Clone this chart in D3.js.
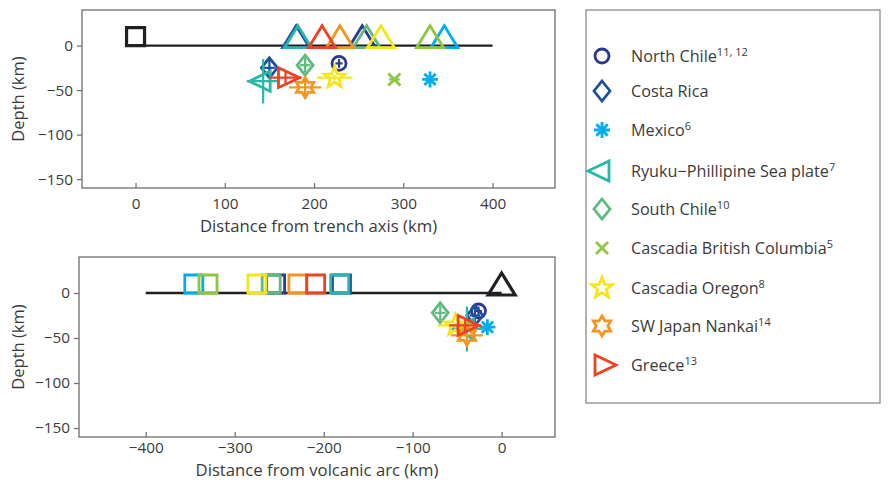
<!DOCTYPE html>
<html>
<head>
<meta charset="utf-8">
<script src="https://cdn.jsdelivr.net/npm/d3@7"></script>
<style>
  body { margin: 0; background: #fff; }
  svg { display: block; font-family: "Open Sans", "DejaVu Sans", sans-serif; }
</style>
</head>
<body>
<svg id="chart" width="892" height="481"></svg>
<script>
// ---------------- data ----------------
const regions = ["North Chile", "Costa Rica", "Mexico", "Ryuku\u2212Phillipine Sea plate", "South Chile",
                 "Cascadia British Columbia", "Cascadia Oregon", "SW Japan Nankai", "Greece"];
const refs = ["11, 12", "", "6", "7", "10", "5", "8", "14", "13"];
const colors = ["#2b3990", "#1c4f9e", "#00aeef", "#2ab7a9", "#5fba7d", "#8dc63f", "#f5e51b", "#f7941d", "#ef4123"];
const symbols = ["circle", "diamond", "asterisk", "triangleLeft", "diamond", "cross", "pentagram", "hexagram", "triangleRight"];
// distance of volcanic arc from trench axis (km)
const arcDist = [254, 180, 346, 182, 259, 330, 275, 229, 209];
// seismic feature distance from trench (km) and depth (km)
const eqDist  = [228, 150, 330, 143, 190, 290, 223, 190, 168];
const eqDepth = [-20, -25, -38, -40, -22, -38, -36, -47, -36];
const distErr  = [4, 6, 6, 18, 6, 6, 20, 18, 18];
const depthErr = [5, 9, 0, 25, 8, 0, 3, 13, 8];
// reference markers (trench / arc) elevation, km
const refElev = 10;
const lineTop = [0, 400];      // trench -> 400 km
const lineBottom = [-400, 0];  // -400 km -> arc
const xTicksTop = [0, 100, 200, 300, 400];
const xTicksBottom = [-400, -300, -200, -100, 0];
const yTicks = [0, -50, -100, -150];

// ---------------- symbols ----------------
function symbolPath(type, s) {
  s = s || 1;
  const p = d3.path();
  const poly = pts => { pts.forEach((q, i) => i ? p.lineTo(q[0]*s, q[1]*s) : p.moveTo(q[0]*s, q[1]*s)); p.closePath(); };
  const star = (n, ro, ri, rot) => {
    const pts = [];
    for (let i = 0; i < 2*n; i++) {
      const r = i % 2 ? ri : ro;
      const a = rot + i * Math.PI / n;
      pts.push([r*Math.cos(a), r*Math.sin(a)]);
    }
    poly(pts);
  };
  switch (type) {
    case "circle": p.moveTo(7*s, 0); p.arc(0, 0, 7*s, 0, 2*Math.PI); break;
    case "diamond": poly([[0, -10], [8, 0], [0, 10], [-8, 0]]); break;
    case "asterisk":
      for (let k = 0; k < 4; k++) { const a = k*Math.PI/4; p.moveTo(-8*s*Math.cos(a), -8*s*Math.sin(a)); p.lineTo(8*s*Math.cos(a), 8*s*Math.sin(a)); }
      break;
    case "cross":
      p.moveTo(-6*s, -6*s); p.lineTo(6*s, 6*s); p.moveTo(-6*s, 6*s); p.lineTo(6*s, -6*s); break;
    case "triangleLeft": poly([[-14, 0], [7, -10], [7, 10]]); break;
    case "triangleRight": poly([[14, 0], [-7, -10], [-7, 10]]); break;
    case "triangleUp": poly([[0, -11], [13.5, 11], [-13.5, 11]]); break;
    case "square": poly([[-9, -9], [9, -9], [9, 9], [-9, 9]]); break;
    case "pentagram": star(5, 11, 4.6, -Math.PI/2); break;
    case "hexagram": star(6, 10, 5.8, -Math.PI/2); break;
  }
  return p.toString();
}

const svg = d3.select("#chart");
const textColor = "#3a3a3a";
const axisColor = "#6d6d6d";

function panel(cfg) {
  const x = d3.scaleLinear().domain(cfg.xDomain).range([cfg.left, cfg.right]);
  const y = d3.scaleLinear().domain([-160, 40]).range([cfg.bottom, cfg.top]);
  const g = svg.append("g");

  // frame
  g.append("rect").attr("x", cfg.left).attr("y", cfg.top)
    .attr("width", cfg.right - cfg.left).attr("height", cfg.bottom - cfg.top)
    .attr("fill", "none").attr("stroke", axisColor).attr("stroke-width", 1.3);

  const xa = g.append("g").attr("transform", `translate(0,${cfg.bottom})`)
    .call(d3.axisBottom(x).tickValues(cfg.xTicks).tickSize(-5).tickPadding(cfg.tickPad).tickFormat(d => d < 0 ? "\u2212" + Math.abs(d) : d));
  const ya = g.append("g").attr("transform", `translate(${cfg.left},0)`)
    .call(d3.axisLeft(y).tickValues(yTicks).tickSize(5).tickPadding(4).tickFormat(d => d < 0 ? "\u2212" + Math.abs(d) : d));
  [xa, ya].forEach(a => {
    a.select(".domain").remove();
    a.selectAll("line").attr("stroke", axisColor).attr("stroke-width", 1.2);
    a.selectAll("text").attr("fill", textColor).attr("font-size", 15.3).attr("font-family", "Open Sans");
  });

  g.append("text").attr("x", (cfg.left + cfg.right) / 2).attr("y", cfg.bottom + cfg.labelOffset)
    .attr("text-anchor", "middle").attr("fill", textColor).attr("font-size", 16.7).text(cfg.xLabel);
  g.append("text").attr("transform", `translate(24,${(cfg.top + cfg.bottom) / 2}) rotate(-90)`)
    .attr("text-anchor", "middle").attr("fill", textColor).attr("font-size", 16.5).text("Depth (km)");

  // base line
  g.append("line").attr("x1", x(cfg.line[0])).attr("x2", x(cfg.line[1]))
    .attr("y1", y(0)).attr("y2", y(0)).attr("stroke", "#231f20").attr("stroke-width", 2.4);

  // black reference marker
  g.append("path").attr("d", symbolPath(cfg.blackSymbol))
    .attr("transform", `translate(${x(0)},${y(refElev)})`)
    .attr("fill", "none").attr("stroke", "#231f20").attr("stroke-width", 3.2);

  // colored reference markers
  g.selectAll(".ref").data(regions.map((r, i) => i)).join("path")
    .attr("d", symbolPath(cfg.refSymbol))
    .attr("transform", i => `translate(${x(cfg.refX(i))},${y(refElev)})`)
    .attr("fill", "none").attr("stroke", i => colors[i]).attr("stroke-width", 2.8)
    .attr("stroke-linejoin", "miter");

  // seismic markers with error bars
  regions.forEach((r, i) => {
    const cx = cfg.eqX(i), cy = eqDepth[i];
    const eg = g.append("g").attr("stroke", colors[i]).attr("fill", "none");
    if (distErr[i] > 0)
      eg.append("line").attr("x1", x(cx - distErr[i])).attr("x2", x(cx + distErr[i]))
        .attr("y1", y(cy)).attr("y2", y(cy)).attr("stroke-width", 2.2);
    if (depthErr[i] > 0)
      eg.append("line").attr("x1", x(cx)).attr("x2", x(cx))
        .attr("y1", y(cy - depthErr[i])).attr("y2", y(cy + depthErr[i])).attr("stroke-width", 2.2);
    eg.append("path").attr("d", symbolPath(symbols[i]))
      .attr("transform", `translate(${x(cx)},${y(cy)})`)
      .attr("stroke-width", 2.8).attr("stroke-linejoin", "miter");
  });
}

panel({
  left: 82, right: 555, top: 10, bottom: 188, labelOffset: 44, tickPad: 10,
  xDomain: [-60, 470], xTicks: xTicksTop, line: lineTop,
  xLabel: "Distance from trench axis (km)",
  blackSymbol: "square", refSymbol: "triangleUp",
  refX: i => arcDist[i], eqX: i => eqDist[i]
});
panel({
  left: 79, right: 555, top: 257, bottom: 437, labelOffset: 39, tickPad: 5,
  xDomain: [-475, 60], xTicks: xTicksBottom, line: lineBottom,
  xLabel: "Distance from volcanic arc (km)",
  blackSymbol: "triangleUp", refSymbol: "square",
  refX: i => -arcDist[i], eqX: i => eqDist[i] - arcDist[i]
});

// ---------------- legend ----------------
const legendRows = [56, 91, 130, 171, 209, 248, 288, 326, 365];
svg.append("rect").attr("x", 586).attr("y", 10).attr("width", 294).attr("height", 393)
  .attr("fill", "none").attr("stroke", "#8a8a8a").attr("stroke-width", 1.3);
const lg = svg.append("g");
regions.forEach((r, i) => {
  lg.append("path").attr("d", symbolPath(symbols[i]))
    .attr("transform", `translate(602,${legendRows[i]})`)
    .attr("fill", "none").attr("stroke", colors[i]).attr("stroke-width", 2.8).attr("stroke-linejoin", "miter");
  const t = lg.append("text").attr("x", 631).attr("y", legendRows[i] + 5.5)
    .attr("fill", textColor).attr("font-size", 16.2);
  t.append("tspan").text(r);
  if (refs[i]) t.append("tspan").attr("dy", -6).attr("font-size", 11).text(refs[i]);
});
</script>
</body>
</html>
